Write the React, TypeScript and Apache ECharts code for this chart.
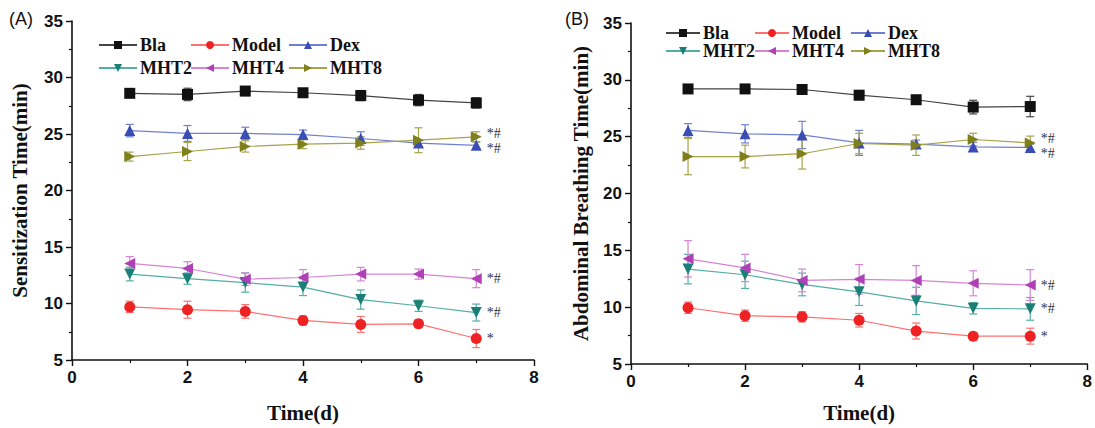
import React, { useEffect, useRef } from "react";
import * as echarts from "echarts";

const days = [1, 2, 3, 4, 5, 6, 7];
const seriesNames = ["Bla", "Model", "Dex", "MHT2", "MHT4", "MHT8"];
const notes = ["", "*", "*#", "*#", "*#", "*#"];
const yTitleA = "Sensitization Time(min)";
const yTitleB = "Abdominal Breathing Time(min)";
const xTitle = "Time(d)";

// Panel A
const blaA = [28.6, 28.5, 28.8, 28.65, 28.4, 28.0, 27.75];
const blaAErr = [0.35, 0.55, 0.4, 0.3, 0.45, 0.5, 0.45];
const modelA = [9.7, 9.45, 9.3, 8.5, 8.15, 8.2, 6.9];
const modelAErr = [0.5, 0.75, 0.6, 0.4, 0.7, 0.35, 0.8];
const dexA = [25.3, 25.05, 25.05, 24.95, 24.6, 24.2, 24.0];
const dexAErr = [0.55, 0.7, 0.55, 0.4, 0.6, 0.3, 0.3];
const mht2A = [12.6, 12.2, 11.85, 11.45, 10.35, 9.8, 9.2];
const mht2AErr = [0.6, 0.5, 0.85, 0.75, 0.85, 0.5, 0.75];
const mht4A = [13.55, 13.1, 12.15, 12.3, 12.6, 12.6, 12.2];
const mht4AErr = [0.6, 0.6, 0.55, 0.7, 0.6, 0.45, 0.8];
const mht8A = [23.0, 23.45, 23.9, 24.1, 24.2, 24.45, 24.75];
const mht8AErr = [0.4, 0.8, 0.5, 0.4, 0.55, 1.1, 0.45];

// Panel B
const blaB = [29.2, 29.2, 29.15, 28.65, 28.25, 27.6, 27.65];
const blaBErr = [0.25, 0.25, 0.25, 0.4, 0.25, 0.6, 0.9];
const modelB = [9.95, 9.25, 9.15, 8.85, 7.9, 7.45, 7.45];
const modelBErr = [0.5, 0.5, 0.45, 0.6, 0.7, 0.3, 0.7];
const dexB = [25.55, 25.25, 25.15, 24.45, 24.35, 24.1, 24.05];
const dexBErr = [0.6, 0.8, 1.2, 1.1, 0.35, 0.4, 0.3];
const mht2B = [13.35, 12.85, 12.0, 11.35, 10.55, 9.9, 9.85];
const mht2BErr = [1.3, 1.2, 1.0, 1.2, 1.2, 0.5, 1.0];
const mht4B = [14.25, 13.45, 12.35, 12.45, 12.35, 12.1, 11.95];
const mht4BErr = [1.6, 1.2, 1.0, 1.3, 1.3, 1.1, 1.35];
const mht8B = [23.25, 23.25, 23.5, 24.4, 24.25, 24.75, 24.45];
const mht8BErr = [1.6, 1.0, 1.35, 0.9, 0.9, 0.55, 0.6];

const valuesA = [blaA, modelA, dexA, mht2A, mht4A, mht8A];
const errsA = [blaAErr, modelAErr, dexAErr, mht2AErr, mht4AErr, mht8AErr];
const valuesB = [blaB, modelB, dexB, mht2B, mht4B, mht8B];
const errsB = [blaBErr, modelBErr, dexBErr, mht2BErr, mht4BErr, mht8BErr];

const markerColors = ["#111111", "#ee2222", "#3a4db5", "#1a7f76", "#b040b6", "#7f7f1c"];
const lineColors = ["#444444", "#ff7070", "#7080d0", "#55aea3", "#d684d6", "#a4a44a"];
const symbols = [
  "rect",
  "circle",
  "triangle",
  "path://M0,0L10,0L5,9Z",
  "path://M10,0L10,10L1,5Z",
  "path://M0,0L0,10L9,5Z",
];
// vertical nudges of the end-note labels, per panel and series
const noteOffsets = [
  [0, 0, 3, 0, 0, -3],
  [0, 0, 6, 0, 0, -4],
];

const sansBold = { fontFamily: "Liberation Sans", fontWeight: "bold" as const };
const serifBold = { fontFamily: "Liberation Serif", fontWeight: "bold" as const };

function makeAxes(gridIndex: number, yName: string, yGap: number, xGap: number) {
  const common = {
    gridIndex,
    type: "value" as const,
    nameLocation: "middle" as const,
    splitLine: { show: false },
    axisLine: { show: true, lineStyle: { color: "#111", width: 1.6 } },
    axisTick: { show: true, inside: false, length: 6, lineStyle: { color: "#111", width: 1.4 } },
    minorTick: { show: true, splitNumber: 2, length: 3, lineStyle: { color: "#111", width: 1.2 } },
    axisLabel: { ...sansBold, fontSize: 17, color: "#111", margin: 9 },
    nameTextStyle: { ...serifBold, fontSize: 21, color: "#111" },
  };
  const x = { ...common, min: 0, max: 8, interval: 2, name: xTitle, nameGap: xGap };
  const y = { ...common, min: 5, max: 35, interval: 5, name: yName, nameGap: yGap };
  return { x, y };
}

function makeSeries(panel: number, values: number[][], errs: number[][]) {
  const out: any[] = [];
  values.forEach((vals, si) => {
    out.push({
      type: "line",
      name: seriesNames[si],
      xAxisIndex: panel,
      yAxisIndex: panel,
      symbol: symbols[si],
      symbolSize: 11,
      z: 3,
      itemStyle: { color: markerColors[si] },
      lineStyle: { color: lineColors[si], width: 1.2 },
      data: days.map((d, i) => {
        if (i === days.length - 1 && notes[si]) {
          return {
            value: [d, vals[i]],
            label: {
              show: true,
              position: "right",
              distance: 5,
              formatter: notes[si],
              fontFamily: "Liberation Serif",
              fontSize: 14,
              color: "#333333",
              textBorderWidth: 0,
              offset: [0, noteOffsets[panel][si]],
            },
          };
        }
        return [d, vals[i]];
      }),
    });
  });
  values.forEach((vals, si) => {
    const col = lineColors[si];
    out.push({
      type: "custom",
      name: seriesNames[si] + " error",
      xAxisIndex: panel,
      yAxisIndex: panel,
      z: 2,
      encode: { x: 0, y: 1 },
      data: days.map((d, i) => [d, vals[i], errs[si][i]]),
      renderItem: (params: any, api: any) => {
        const x = api.value(0);
        const y = api.value(1);
        const e = api.value(2);
        const top = api.coord([x, y + e]);
        const bot = api.coord([x, y - e]);
        const w = 4;
        const st = { stroke: col, lineWidth: 1.2 };
        return {
          type: "group",
          children: [
            { type: "line", shape: { x1: top[0], y1: top[1], x2: bot[0], y2: bot[1] }, style: st },
            { type: "line", shape: { x1: top[0] - w, y1: top[1], x2: top[0] + w, y2: top[1] }, style: st },
            { type: "line", shape: { x1: bot[0] - w, y1: bot[1], x2: bot[0] + w, y2: bot[1] }, style: st },
          ],
        };
      },
    });
  });
  return out;
}

const legendPos = {
  A: { cols: [98, 190, 288], rows: [36, 59], w: 38 },
  B: { cols: [665, 754, 850], rows: [24, 42], w: 34 },
};

function makeLegends(p: { cols: number[]; rows: number[]; w: number }) {
  return seriesNames.map((n, i) => ({
    data: [n],
    left: p.cols[i % 3],
    top: p.rows[Math.floor(i / 3)],
    itemWidth: p.w,
    itemHeight: 10,
    padding: 0,
    selectedMode: false,
    textStyle: { ...serifBold, fontSize: 18, color: "#111", padding: [0, 0, 0, -2] },
  }));
}

export default function App() {
  const ref = useRef<HTMLDivElement>(null);
  useEffect(() => {
    if (!ref.current) return;
    const chart = echarts.init(ref.current, undefined, { renderer: "svg" });
    const a = makeAxes(0, yTitleA, 42, 42);
    const b = makeAxes(1, yTitleB, 40, 38);
    chart.setOption({
      animation: false,
      backgroundColor: "#ffffff",
      grid: [
        { left: 72, right: 561, top: 21, bottom: 63 },
        { left: 631, right: 2, top: 23, bottom: 59 },
      ],
      xAxis: [a.x, b.x],
      yAxis: [a.y, b.y],
      legend: [...makeLegends(legendPos.A), ...makeLegends(legendPos.B)],
      graphic: [
        { type: "text", left: 9, top: 10, style: { text: "(A)", fontFamily: "Liberation Sans", fontSize: 18, fill: "#111" } },
        { type: "text", left: 565, top: 10, style: { text: "(B)", fontFamily: "Liberation Sans", fontSize: 18, fill: "#111" } },
      ],
      series: [...makeSeries(0, valuesA, errsA), ...makeSeries(1, valuesB, errsB)],
    });
    return () => chart.dispose();
  }, []);
  return (
    <div
      ref={ref}
      style={{ position: "absolute", left: 0, top: 0, width: 1095, height: 428, background: "#fff" }}
    />
  );
}
